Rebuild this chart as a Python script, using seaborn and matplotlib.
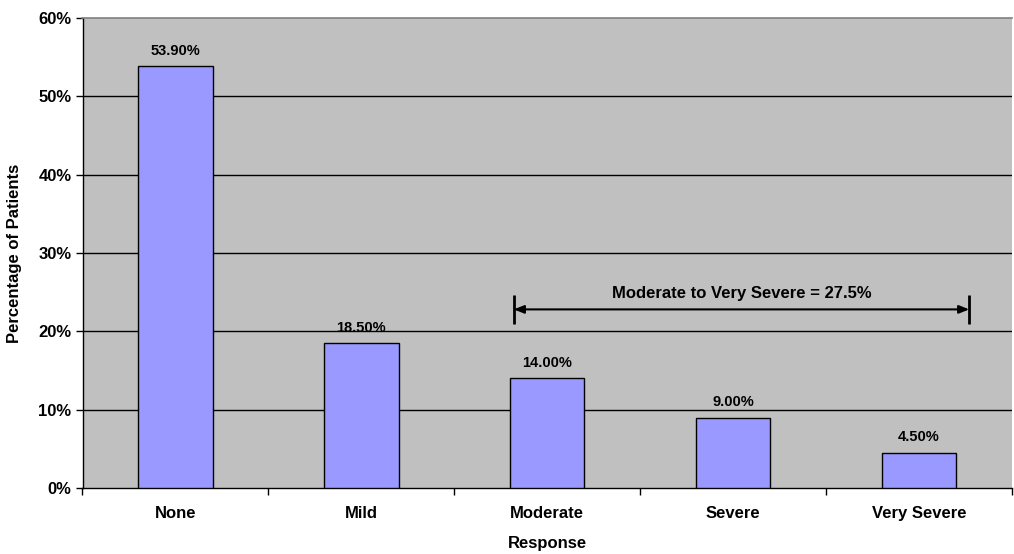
import matplotlib
matplotlib.use("Agg")
import matplotlib.pyplot as plt
import seaborn as sns
import pandas as pd
from matplotlib.ticker import FixedLocator, FuncFormatter

categories = ["None", "Mild", "Moderate", "Severe", "Very Severe"]
percentages = [53.9, 18.5, 14.0, 9.0, 4.5]
y_ticks = [0, 10, 20, 30, 40, 50, 60]

df = pd.DataFrame({"Response": categories, "Percentage": percentages})

sns.set_theme(style="white")
plt.rcParams["font.family"] = ["Liberation Sans", "DejaVu Sans"]
plt.rcParams["font.weight"] = "bold"
plt.rcParams["text.color"] = "black"
plt.rcParams["axes.labelcolor"] = "black"
plt.rcParams["xtick.color"] = "black"
plt.rcParams["ytick.color"] = "black"

fig = plt.figure(figsize=(10.14, 5.54), dpi=100)
ax = fig.add_axes([82.5 / 1014, 66 / 554, (1012 - 82.5) / 1014, (488 - 18) / 554])
ax.set_facecolor("#C0C0C0")

sns.barplot(data=df, x="Response", y="Percentage", color="#9999FF", saturation=1,
            edgecolor="black", linewidth=1.0, width=0.4, ax=ax, zorder=3)

ax.set_ylim(0, 60)
ax.set_xlim(-0.5, len(categories) - 0.5)
for y in y_ticks[1:-1]:
    ax.axhline(y, color="black", linewidth=1.0, zorder=1)

ax.yaxis.set_major_locator(FixedLocator(y_ticks))
ax.yaxis.set_major_formatter(FuncFormatter(lambda v, p: f"{v:.0f}%"))
ax.tick_params(axis="y", which="major", direction="out", length=5, width=1,
               color="black", labelcolor="black", labelsize=12, pad=3, left=True)
for lbl in ax.get_yticklabels():
    lbl.set_fontweight("bold")

ax.set_xticks(range(len(categories)))
ax.set_xticklabels(categories, fontsize=12, fontweight="bold", color="black")
ax.tick_params(axis="x", which="major", length=0, pad=13)
ax.set_xticks([i - 0.5 for i in range(len(categories) + 1)], minor=True)
ax.tick_params(axis="x", which="minor", direction="out", length=5, width=1,
               color="black", bottom=True)

ax.set_xlabel("Response", fontsize=12, fontweight="bold", labelpad=11, color="black")
ax.set_ylabel("Percentage of Patients", fontsize=12, fontweight="bold", labelpad=12,
              color="black")

for side in ["left", "bottom"]:
    ax.spines[side].set_color("black")
    ax.spines[side].set_linewidth(1.0)
ax.spines["top"].set_color("#808080")
ax.spines["top"].set_linewidth(1.2)
ax.spines["right"].set_visible(False)

# value labels above each bar
for i, v in enumerate(percentages):
    ax.annotate(f"{v:.2f}%", xy=(i, v), xytext=(0, 11), textcoords="offset points",
                ha="center", va="center", fontsize=10.5, fontweight="bold",
                color="black", zorder=5)

# bracket spanning the moderate-to-very-severe group
start_idx = categories.index("Moderate")
end_idx = categories.index("Very Severe")
x0 = start_idx - 0.18
x1 = end_idx + 0.27
y_br = 22.8
group_total = sum(percentages[start_idx:end_idx + 1])
ax.annotate("", xy=(x1, y_br), xytext=(x0, y_br),
            arrowprops=dict(arrowstyle="<|-|>,head_length=0.5,head_width=0.2",
                            color="black", lw=1.5, shrinkA=0, shrinkB=0), zorder=6)
ax.vlines([x0, x1], y_br - 1.9, y_br + 1.9, colors="black", linewidth=2, zorder=6)
ax.text((x0 + x1) / 2, y_br + 2.0, f"Moderate to Very Severe = {group_total:.1f}%",
        ha="center", va="center", fontsize=12, fontweight="bold", color="black",
        zorder=6)

fig.savefig("out.png", dpi=100, facecolor="white")
